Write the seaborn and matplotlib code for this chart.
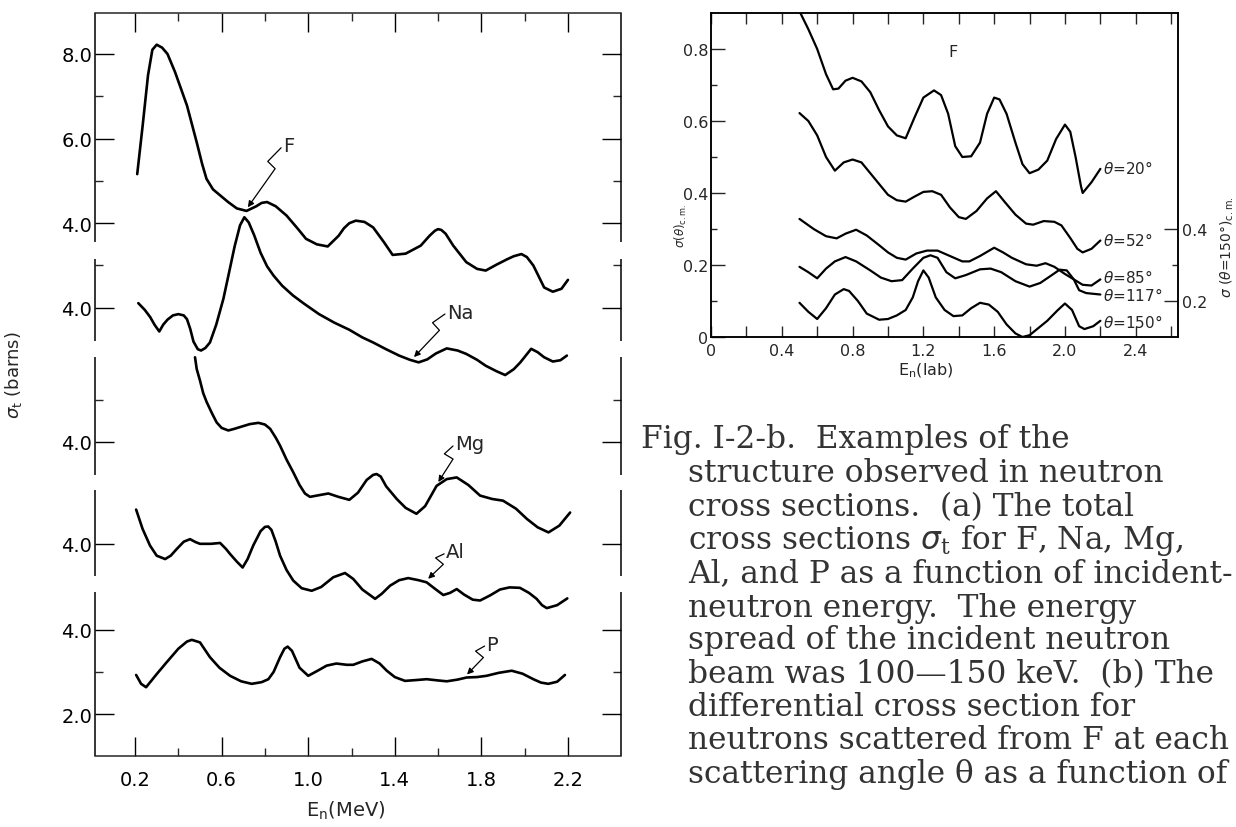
import numpy as np
import pandas as pd
import matplotlib
matplotlib.use("Agg")
import matplotlib.pyplot as plt
import seaborn as sns
from matplotlib.path import Path
from matplotlib.patches import FancyArrowPatch
from matplotlib.transforms import IdentityTransform

# ---------------- panel (a): total cross sections sigma_t (barns) vs E_n (MeV)
F_pts = [(0.21, 5.16), (0.235, 6.3), (0.26, 7.5), (0.28, 8.1), (0.30, 8.22), (0.325, 8.15),
         (0.35, 8.0), (0.385, 7.57), (0.44, 6.78), (0.485, 5.91), (0.51, 5.4), (0.53, 5.05),
         (0.56, 4.8), (0.595, 4.65), (0.63, 4.5), (0.67, 4.35), (0.715, 4.29), (0.76, 4.4),
         (0.785, 4.48), (0.81, 4.5), (0.85, 4.4), (0.90, 4.18), (0.95, 3.88), (0.99, 3.63),
         (1.04, 3.5), (1.09, 3.45), (1.14, 3.7), (1.165, 3.88), (1.19, 4.0), (1.22, 4.06),
         (1.26, 4.03), (1.30, 3.9), (1.35, 3.55), (1.39, 3.25), (1.45, 3.28), (1.52, 3.47),
         (1.56, 3.7), (1.585, 3.82), (1.60, 3.86), (1.615, 3.84), (1.635, 3.75), (1.67, 3.47),
         (1.73, 3.08), (1.78, 2.92), (1.82, 2.88), (1.87, 3.02), (1.92, 3.15), (1.95, 3.22),
         (1.985, 3.27), (2.01, 3.2), (2.04, 3.0), (2.09, 2.48), (2.13, 2.38), (2.17, 2.45),
         (2.20, 2.66)]
Na_pts = [(0.215, 4.11), (0.245, 3.95), (0.27, 3.78), (0.29, 3.6), (0.312, 3.44), (0.33, 3.6),
          (0.35, 3.72), (0.375, 3.82), (0.40, 3.85), (0.425, 3.82), (0.44, 3.73), (0.455, 3.5),
          (0.47, 3.2), (0.49, 3.02), (0.505, 2.99), (0.525, 3.05), (0.546, 3.18), (0.575, 3.6),
          (0.608, 4.21), (0.635, 4.85), (0.66, 5.45), (0.685, 5.95), (0.705, 6.14), (0.725, 6.02),
          (0.75, 5.72), (0.78, 5.3), (0.81, 4.98), (0.84, 4.76), (0.88, 4.52), (0.93, 4.29),
          (0.98, 4.1), (1.05, 3.85), (1.12, 3.65), (1.19, 3.48), (1.25, 3.3), (1.30, 3.18),
          (1.36, 3.02), (1.42, 2.87), (1.47, 2.77), (1.51, 2.71), (1.55, 2.78), (1.59, 2.92),
          (1.64, 3.04), (1.69, 2.99), (1.73, 2.91), (1.78, 2.77), (1.82, 2.63), (1.87, 2.5),
          (1.91, 2.41), (1.95, 2.55), (1.98, 2.71), (2.03, 3.03), (2.06, 2.95), (2.09, 2.83),
          (2.13, 2.73), (2.165, 2.76), (2.195, 2.87)]
Mg_pts = [(0.477, 6.0), (0.485, 5.72), (0.50, 5.45), (0.515, 5.15), (0.531, 4.94), (0.555, 4.68),
          (0.577, 4.46), (0.60, 4.33), (0.631, 4.27), (0.66, 4.31), (0.685, 4.35), (0.73, 4.42),
          (0.77, 4.45), (0.80, 4.41), (0.824, 4.31), (0.85, 4.1), (0.87, 3.91), (0.90, 3.58),
          (0.931, 3.28), (0.96, 2.98), (0.985, 2.78), (1.008, 2.70), (1.05, 2.74), (1.093, 2.78),
          (1.14, 2.7), (1.19, 2.63), (1.23, 2.8), (1.27, 3.1), (1.30, 3.22), (1.316, 3.24),
          (1.335, 3.18), (1.36, 2.95), (1.409, 2.65), (1.45, 2.44), (1.50, 2.30), (1.54, 2.48),
          (1.593, 2.96), (1.64, 3.12), (1.686, 3.16), (1.74, 2.98), (1.794, 2.73), (1.85, 2.65),
          (1.90, 2.61), (1.96, 2.42), (2.01, 2.18), (2.06, 1.98), (2.11, 1.86), (2.16, 2.02),
          (2.21, 2.33)]
Al_pts = [(0.205, 4.81), (0.235, 4.35), (0.269, 3.96), (0.30, 3.72), (0.339, 3.64), (0.365, 3.72),
          (0.393, 3.88), (0.425, 4.05), (0.454, 4.11), (0.48, 4.04), (0.50, 4.0), (0.55, 4.0),
          (0.593, 4.02), (0.62, 3.88), (0.639, 3.76), (0.67, 3.58), (0.697, 3.44), (0.72, 3.64),
          (0.746, 3.96), (0.78, 4.3), (0.80, 4.40), (0.815, 4.41), (0.83, 4.33), (0.85, 4.05),
          (0.87, 3.72), (0.90, 3.38), (0.931, 3.13), (0.97, 2.95), (1.016, 2.89), (1.06, 2.98),
          (1.116, 3.21), (1.17, 3.31), (1.208, 3.17), (1.25, 2.92), (1.309, 2.70), (1.34, 2.82),
          (1.378, 3.01), (1.42, 3.14), (1.462, 3.19), (1.51, 3.14), (1.547, 3.09), (1.59, 2.92),
          (1.624, 2.79), (1.655, 2.84), (1.686, 2.93), (1.72, 2.8), (1.76, 2.68), (1.794, 2.66),
          (1.84, 2.78), (1.886, 2.92), (1.93, 2.97), (1.978, 2.96), (2.02, 2.84), (2.055, 2.70),
          (2.08, 2.55), (2.102, 2.48), (2.15, 2.55), (2.197, 2.71)]
P_pts = [(0.205, 2.93), (0.228, 2.72), (0.251, 2.64), (0.30, 2.95), (0.346, 3.23), (0.40, 3.55),
         (0.44, 3.72), (0.462, 3.76), (0.50, 3.70), (0.546, 3.35), (0.59, 3.1), (0.639, 2.91),
         (0.69, 2.78), (0.739, 2.72), (0.785, 2.76), (0.816, 2.83), (0.84, 3.0), (0.87, 3.35),
         (0.89, 3.55), (0.905, 3.60), (0.925, 3.5), (0.96, 3.1), (1.0, 2.91), (1.04, 3.02),
         (1.085, 3.15), (1.13, 3.2), (1.178, 3.17), (1.208, 3.17), (1.25, 3.25), (1.293, 3.31),
         (1.33, 3.2), (1.363, 3.03), (1.40, 2.88), (1.447, 2.79), (1.50, 2.81), (1.547, 2.83),
         (1.60, 2.80), (1.64, 2.78), (1.69, 2.82), (1.732, 2.87), (1.78, 2.88), (1.824, 2.91),
         (1.88, 2.98), (1.94, 3.03), (1.99, 2.96), (2.04, 2.83), (2.075, 2.75), (2.109, 2.72),
         (2.15, 2.77), (2.186, 2.93)]

elements = ["F", "Na", "Mg", "Al", "P"]
element_pts = [F_pts, Na_pts, Mg_pts, Al_pts, P_pts]

# ---------------- panel (b): differential cross sections for F vs E_n (lab)
th20_pts = [(0.47, 0.96), (0.50, 0.905), (0.55, 0.855), (0.60, 0.80), (0.65, 0.73), (0.69, 0.688),
            (0.72, 0.69), (0.76, 0.712), (0.80, 0.72), (0.85, 0.71), (0.90, 0.68), (0.95, 0.63),
            (1.00, 0.585), (1.05, 0.56), (1.10, 0.552), (1.15, 0.61), (1.20, 0.665), (1.26, 0.685),
            (1.30, 0.672), (1.34, 0.62), (1.38, 0.53), (1.42, 0.50), (1.47, 0.502), (1.52, 0.54),
            (1.56, 0.62), (1.60, 0.665), (1.63, 0.66), (1.67, 0.62), (1.72, 0.54), (1.76, 0.48),
            (1.80, 0.455), (1.85, 0.465), (1.90, 0.49), (1.95, 0.55), (2.00, 0.59), (2.03, 0.57),
            (2.06, 0.50), (2.09, 0.42), (2.10, 0.40), (2.15, 0.43), (2.20, 0.467)]
th52_pts = [(0.50, 0.622), (0.55, 0.60), (0.60, 0.56), (0.65, 0.50), (0.70, 0.462), (0.75, 0.485),
            (0.80, 0.493), (0.85, 0.485), (0.90, 0.455), (0.95, 0.425), (1.00, 0.395), (1.05, 0.38),
            (1.10, 0.376), (1.15, 0.39), (1.20, 0.403), (1.25, 0.405), (1.30, 0.395), (1.35, 0.36),
            (1.40, 0.333), (1.44, 0.328), (1.50, 0.35), (1.56, 0.385), (1.61, 0.405), (1.66, 0.375),
            (1.72, 0.34), (1.78, 0.315), (1.82, 0.312), (1.88, 0.322), (1.94, 0.32), (1.98, 0.31),
            (2.03, 0.275), (2.07, 0.245), (2.10, 0.235), (2.15, 0.245), (2.20, 0.268)]
th85_pts = [(0.50, 0.328), (0.58, 0.30), (0.65, 0.28), (0.71, 0.274), (0.76, 0.287), (0.82, 0.298),
            (0.88, 0.282), (0.95, 0.255), (1.00, 0.235), (1.05, 0.22), (1.10, 0.215), (1.16, 0.232),
            (1.22, 0.24), (1.28, 0.24), (1.35, 0.225), (1.42, 0.21), (1.46, 0.21), (1.52, 0.225),
            (1.60, 0.248), (1.65, 0.235), (1.70, 0.22), (1.78, 0.202), (1.84, 0.198), (1.89, 0.205),
            (1.94, 0.195), (2.00, 0.175), (2.05, 0.16), (2.10, 0.145), (2.15, 0.143), (2.20, 0.16)]
th117_pts = [(0.50, 0.195), (0.55, 0.18), (0.60, 0.163), (0.65, 0.19), (0.70, 0.21), (0.76, 0.222),
             (0.82, 0.21), (0.90, 0.185), (0.96, 0.165), (1.02, 0.155), (1.08, 0.158), (1.14, 0.19),
             (1.20, 0.22), (1.24, 0.227), (1.28, 0.22), (1.33, 0.18), (1.38, 0.163), (1.44, 0.172),
             (1.52, 0.188), (1.58, 0.19), (1.64, 0.18), (1.72, 0.155), (1.80, 0.14), (1.86, 0.15),
             (1.92, 0.17), (1.97, 0.187), (2.01, 0.185), (2.05, 0.16), (2.08, 0.13), (2.12, 0.122),
             (2.20, 0.118)]
th150_pts = [(0.50, 0.095), (0.55, 0.07), (0.60, 0.05), (0.65, 0.08), (0.70, 0.118), (0.75, 0.133),
             (0.78, 0.128), (0.83, 0.10), (0.88, 0.065), (0.95, 0.048), (1.00, 0.05), (1.05, 0.06),
             (1.10, 0.075), (1.14, 0.11), (1.17, 0.155), (1.20, 0.185), (1.23, 0.165), (1.27, 0.11),
             (1.32, 0.075), (1.37, 0.058), (1.42, 0.06), (1.47, 0.08), (1.52, 0.095), (1.57, 0.09),
             (1.62, 0.07), (1.67, 0.035), (1.72, 0.01), (1.76, 0.0), (1.80, 0.005), (1.85, 0.025),
             (1.90, 0.045), (1.96, 0.075), (2.00, 0.093), (2.04, 0.075), (2.08, 0.03), (2.11, 0.022),
             (2.16, 0.03), (2.20, 0.045)]
angles = ["20", "52", "85", "117", "150"]
angle_pts = [th20_pts, th52_pts, th85_pts, th117_pts, th150_pts]

left_xticks = [0.2, 0.6, 1.0, 1.4, 1.8, 2.2]
right_xticks = [0, 0.4, 0.8, 1.2, 1.6, 2.0, 2.4]
right_yticks = [0, 0.2, 0.4, 0.6, 0.8]

caption_lines = [
    "Fig. I-2-b.  Examples of the",
    "structure observed in neutron",
    "cross sections.  (a) The total",
    r"cross sections $\sigma_\mathregular{t}$ for F, Na, Mg,",
    "Al, and P as a function of incident-",
    "neutron energy.  The energy",
    "spread of the incident neutron",
    "beam was 100\u2014150 keV.  (b) The",
    "differential cross section for",
    "neutrons scattered from F at each",
    "scattering angle \u03b8 as a function of",
]

# ---------------- layout / style (not data)
OFFSET = {"F": 0.0, "Na": -2.0, "Mg": -5.17, "Al": -7.58, "P": -9.61}
THETA_LABEL_Y = [0.472, 0.272, 0.169, 0.117, 0.044]
W, H = 1236, 828

sns.set_style("white")
plt.rcParams["font.family"] = ["DejaVu Sans"]
plt.rcParams["mathtext.fontset"] = "dejavusans"
plt.rcParams["axes.linewidth"] = 1.1

fig = plt.figure(figsize=(W / 100, H / 100), dpi=100)
fig.patch.set_facecolor("white")


def fx(px):
    return px / W


def fy(py):
    return 1 - py / H


# ======================= panel (a) =======================
ax1 = fig.add_axes([fx(95), fy(757), fx(621) - fx(95), fy(14) - fy(757)])
rows = []
for name, pts in zip(elements, element_pts):
    for e, s in pts:
        rows.append({"E": e, "y": s + OFFSET[name], "series": name})
dfa = pd.DataFrame(rows)
sns.lineplot(data=dfa, x="E", y="y", hue="series", palette={k: "black" for k in elements},
             sort=False, estimator=None, legend=False, lw=1.9, ax=ax1,
             solid_joinstyle="round", solid_capstyle="round")
ax1.set_xlim(0.015, 2.445)
ax1.set_ylim(-8.596, 8.969)

# broken left / right frame
for sp in ["left", "right"]:
    ax1.spines[sp].set_visible(False)
segments = [("F", 3.556, None), ("Na", 5.154, 3.215), ("Mg", 6.007, 3.217),
            ("Al", 5.273, 3.24), ("P", 4.89, None)]
ytr = ax1.get_yaxis_transform()
for name, a, b in segments:
    lo = a + OFFSET[name]
    if name == "F":
        hi = 8.969
    elif name == "P":
        hi = -8.596
    else:
        hi = b + OFFSET[name]
    for xs in (0, 1):
        ax1.plot([xs, xs], [lo, hi], transform=ytr, color="black", lw=1.1,
                 clip_on=False, solid_capstyle="butt")

major_y = [(8, "F", "8.0"), (6, "F", "6.0"), (4, "F", "4.0"), (4, "Na", "4.0"),
           (4, "Mg", "4.0"), (4, "Al", "4.0"), (4, "P", "4.0"), (2, "P", "2.0")]
minor_y = [(7, "F"), (5, "F"), (5, "Na"), (5, "Mg"), (3, "P")]
ax1.set_yticks([v + OFFSET[n] for v, n, _ in major_y])
ax1.set_yticklabels([l for _, _, l in major_y])
ax1.set_yticks([v + OFFSET[n] for v, n in minor_y], minor=True)
ax1.set_xticks(left_xticks)
ax1.set_xticklabels([f"{t:.1f}" for t in left_xticks])
ax1.set_xticks([t + 0.2 for t in left_xticks[:-1]], minor=True)
ax1.tick_params(axis="both", which="major", direction="in", length=14, width=1.0,
                left=True, right=True, top=True, bottom=True, labelsize=14, colors="black")
ax1.tick_params(axis="both", which="minor", direction="in", length=6, width=1.0,
                left=True, right=True, top=True, bottom=True)
ax1.tick_params(axis="y", which="both", pad=2)
ax1.tick_params(axis="x", which="both", pad=10)
ax1.set_xlabel(r"E$_\mathregular{n}$(MeV)", fontsize=14)
ax1.xaxis.set_label_coords(0.476, -0.058)
ax1.set_ylabel(r"$\sigma_\mathregular{t}$ (barns)", fontsize=13)
ax1.yaxis.set_label_coords(-0.135, 0.514)

# element labels with zig-zag arrows
ANNOT = [("F", 0.884, 5.83, 0.712), ("Na", 1.641, 3.90, 1.478), ("Mg", 1.678, 3.95, 1.594),
         ("Al", 1.637, 3.81, 1.544), ("P", 1.824, 3.66, 1.724)]
pts_by_name = dict(zip(elements, element_pts))


def zig_arrow(p0, p3):
    p0 = np.asarray(p0, float)
    p3 = np.asarray(p3, float)
    d = p3 - p0
    L = np.hypot(*d)
    u = d / L
    n = np.array([-u[1], u[0]])
    p3 = p3 - u * 4
    d = p3 - p0
    a = p0 + 0.27 * d - 5 * n
    b = p0 + 0.31 * d + 5 * n
    path = Path([p0, a, b, p3], [Path.MOVETO, Path.LINETO, Path.LINETO, Path.LINETO])
    arr = FancyArrowPatch(path=path, arrowstyle="-|>", mutation_scale=9, lw=0.9,
                          color="black", transform=IdentityTransform())
    fig.add_artist(arr)


for name, te, tv, ee in ANNOT:
    off = OFFSET[name]
    ax1.text(te, tv + off, name, fontsize=14, ha="left", va="center")
    pts = pts_by_name[name]
    ev = np.interp(ee, [p[0] for p in pts], [p[1] for p in pts]) + off
    p0 = ax1.transData.transform((te, tv + off)) + np.array([-2.0, -2.0])
    p3 = ax1.transData.transform((ee, ev))
    zig_arrow(p0, p3)

# ======================= panel (b) =======================
ax2 = fig.add_axes([fx(711), fy(338), fx(1177.7) - fx(711), fy(14) - fy(338)])
rows = []
for ang, pts in zip(angles, angle_pts):
    for e, s in pts:
        rows.append({"E": e, "sigma": s, "theta": ang})
dfb = pd.DataFrame(rows)
sns.lineplot(data=dfb, x="E", y="sigma", hue="theta", palette={k: "black" for k in angles},
             sort=False, estimator=None, legend=False, lw=1.6, ax=ax2,
             solid_joinstyle="round", solid_capstyle="round")
ax2.set_xlim(0, 2.637)
ax2.set_ylim(0, 0.9)
ax2.set_xticks(right_xticks)
ax2.set_xticklabels(["0" if t == 0 else f"{t:.1f}" for t in right_xticks])
ax2.set_xticks([t + 0.2 for t in right_xticks], minor=True)
ax2.set_yticks(right_yticks)
ax2.set_yticklabels(["0" if t == 0 else f"{t:.1f}" for t in right_yticks])
ax2.set_yticks([t + 0.1 for t in right_yticks[:-1]], minor=True)
ax2.tick_params(axis="x", which="both", direction="in", length=8, width=1.0, top=True,
                bottom=True, labelsize=11.5, pad=4)
ax2.tick_params(axis="y", which="major", direction="in", length=10, width=1.0, left=True,
                right=False, labelsize=11.5, pad=2)
ax2.tick_params(axis="y", which="minor", direction="in", length=4, width=1.0, left=True,
                right=False)
ax2.set_xlabel(r"E$_\mathregular{n}$(lab)", fontsize=11.5)
ax2.xaxis.set_label_coords(0.459, -0.072)
ax2.set_ylabel(r"$\sigma(\theta)_\mathregular{c.m.}$", fontsize=8.5)
ax2.yaxis.set_label_coords(-0.048, 0.345)
ax2.text(1.365, 0.794, "F", fontsize=11.5, ha="center", va="center")
for ang, ly in zip(angles, THETA_LABEL_Y):
    ax2.text(2.215, ly, rf"$\theta$={ang}°", fontsize=11, ha="left", va="center")

ax3 = ax2.twinx()
ax3.set_position(ax2.get_position())
ax3.set_ylim(0.1, 1.0)
ax3.set_yticks([0.2, 0.4])
ax3.set_yticklabels(["0.2", "0.4"])
ax3.set_yticks([0.3], minor=True)
ax3.tick_params(axis="y", which="major", direction="in", length=10, width=1.0, labelsize=11.5, pad=3)
ax3.tick_params(axis="y", which="minor", direction="in", length=4, width=1.0)
ax3.set_ylabel(r"$\sigma$ ($\theta$=150°)$_\mathregular{c.m.}$", fontsize=10)
ax3.yaxis.set_label_coords(1.088, 0.28)
for a in (ax2, ax3):
    for sp in a.spines.values():
        sp.set_linewidth(1.1)
        sp.set_color("black")

# ======================= caption =======================
fig.canvas.draw()
r = fig.canvas.get_renderer()
probe = fig.text(0, 0, caption_lines[1], family="DejaVu Serif", fontsize=18)
wpx = probe.get_window_extent(renderer=r).width
probe.remove()
cap_fs = 18 * 478.0 / wpx
ys = [440, 474, 508, 541, 574, 608, 641, 675, 708, 741, 775]
for i, (line, y) in enumerate(zip(caption_lines, ys)):
    x = 641 if i == 0 else 688
    fig.text(fx(x), fy(y), line, family="DejaVu Serif", fontsize=cap_fs, ha="left",
             va="center", color="#333333")

fig.savefig("out.png", dpi=100, facecolor="white")
